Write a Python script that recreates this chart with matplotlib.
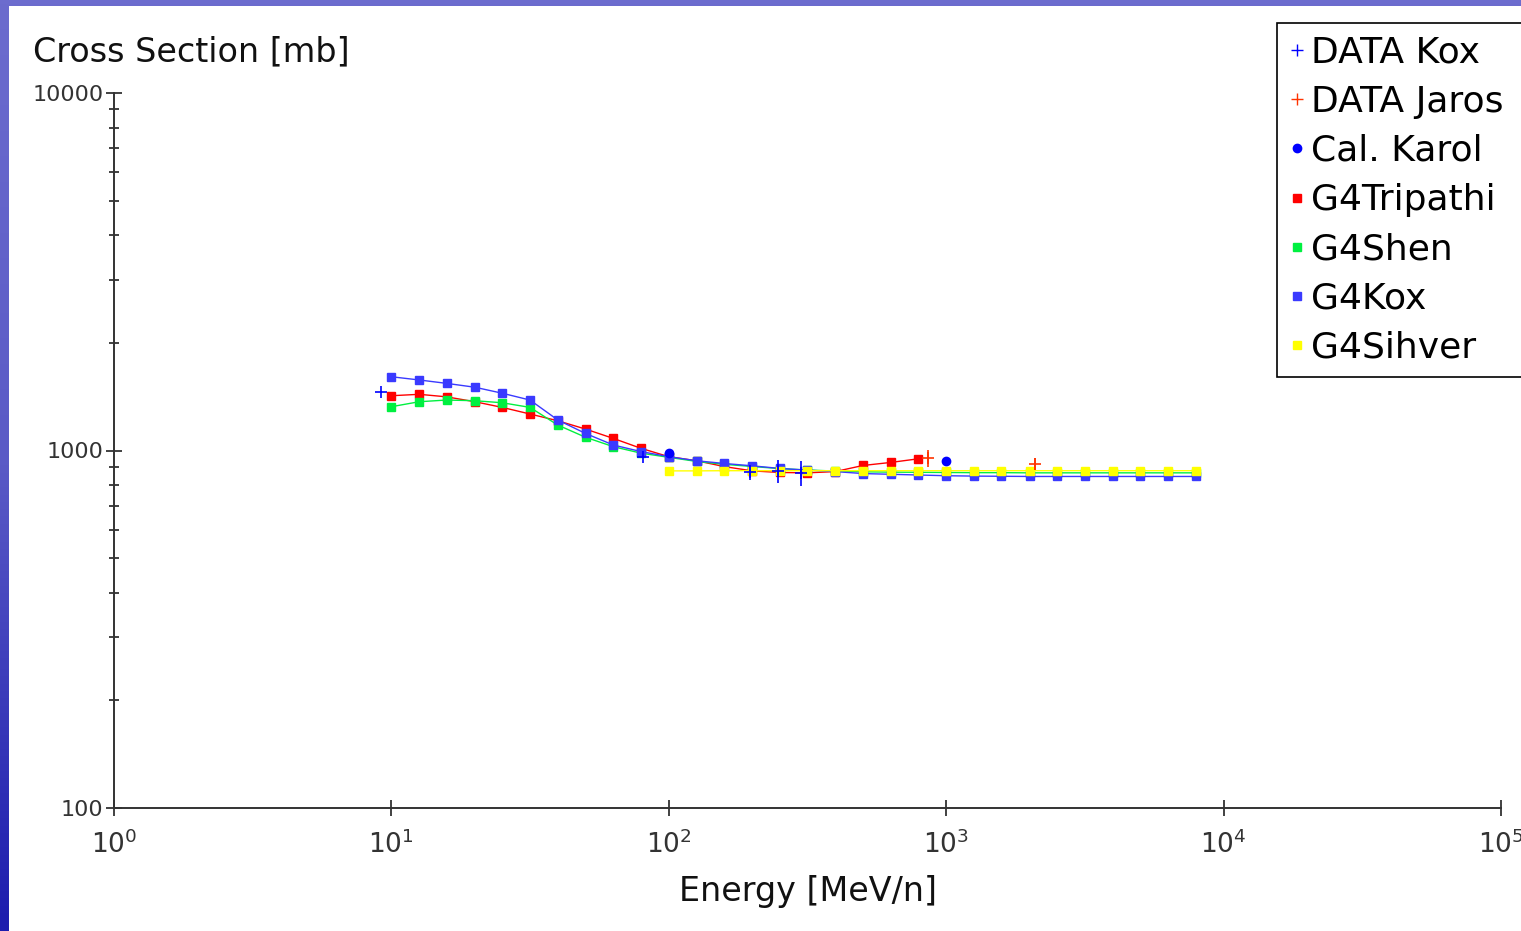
import numpy as np
import matplotlib
matplotlib.use("Agg")
from matplotlib import pyplot as plt
from matplotlib.lines import Line2D
from matplotlib.patches import Rectangle

# energies [MeV/n] of the model curves (0.1 decade steps)
E_model = [10, 12.6, 15.8, 20, 25.1, 31.6, 39.8, 50.1, 63.1, 79.4,
           100, 126, 158, 200, 251, 316, 398, 501, 631, 794,
           1000, 1260, 1580, 2000, 2510, 3160, 3980, 5010, 6310, 7940]

# cross sections [mb]
tripathi = [1423, 1436, 1413, 1369, 1320, 1265, 1211, 1148, 1081, 1014,
            961, 936, 902, 877, 868, 866, 873, 908, 926, 948]
shen = [1326, 1369, 1384, 1378, 1360, 1320, 1178, 1089, 1025, 983,
        957, 932, 915, 902, 890, 882, 876, 872, 870, 869,
        868, 867, 867, 866, 866, 866, 866, 866, 866, 866]
kox = [1608, 1575, 1541, 1503, 1446, 1384, 1217, 1116, 1036, 993,
       961, 936, 920, 906, 891, 881, 873, 862, 858, 854,
       850, 848, 847, 846, 846, 846, 846, 846, 846, 846]
sihver = [877, 877, 878, 878, 878, 878, 878, 878, 878, 878,
          878, 878, 878, 878, 878, 878, 878, 878, 878, 878]   # from 100 MeV/n

kox_E = [9.15, 81, 196, 248, 299]
kox_xs = [1460, 962, 868, 874, 866]
kox_err = [0, 0, 40, 65, 70]

jaros_E = [858, 2090]
jaros_xs = [951, 918]
jaros_err = [52, 35]

karol_E = [100, 1000]
karol_xs = [986, 936]

fig = plt.figure(figsize=(15.21, 9.31), dpi=100)

# blue slide background with white panel
bg = fig.add_axes([0, 0, 1, 1], zorder=-5)
grad = np.linspace(0, 1, 256).reshape(-1, 1)
cmap = matplotlib.colors.LinearSegmentedColormap.from_list("slide", ["#6c6cce", "#5a5ac6", "#1c1cae"])
bg.imshow(grad, aspect="auto", cmap=cmap, extent=[0, 1, 0, 1], origin="upper")
bg.add_patch(Rectangle((9/1521, 0), 1, 1 - 6/931, facecolor="white", edgecolor="none"))
bg.set_xlim(0, 1); bg.set_ylim(0, 1)
bg.axis("off")

ax = fig.add_axes([114/1521, 1 - 808/931, (1501-114)/1521, (808-93)/931])
ax.set_facecolor("white")

ax.plot(E_model[:20], tripathi, color="#ff0000", lw=1.0, marker="s", ms=6, mec="#ff0000", zorder=3)
ax.plot(E_model, shen, color="#00f040", lw=1.0, marker="s", ms=6, mec="#00f040", zorder=3)
ax.plot(E_model, kox, color="#3a3aff", lw=1.0, marker="s", ms=6, mec="#3a3aff", zorder=4)
ax.plot(E_model[10:], sihver, color="#ffff00", lw=1.0, marker="s", ms=6, mec="#ffff00", zorder=5)

ax.errorbar(kox_E, kox_xs, yerr=kox_err, fmt="+", color="#0000ff", ms=9, mew=1.2, elinewidth=1.2, capsize=0, zorder=6)
ax.errorbar(jaros_E, jaros_xs, yerr=jaros_err, fmt="+", color="#ff3300", ms=9, mew=1.2, elinewidth=1.2, capsize=0, zorder=6)
ax.plot(karol_E, karol_xs, "o", color="#0000ff", ms=6, zorder=6)

ax.set_xscale("log")
ax.set_yscale("log")
ax.set_xlim(1, 1e5)
ax.set_ylim(100, 10000)

ax.set_xticks([1, 10, 100, 1000, 1e4, 1e5])
ax.set_xticklabels([r"$10^{%d}$" % i for i in range(6)])
ax.xaxis.set_minor_locator(matplotlib.ticker.NullLocator())
ax.set_yticks([100, 1000, 10000])
ax.set_yticklabels(["100", "1000", "10000"])
ax.yaxis.set_minor_locator(matplotlib.ticker.LogLocator(base=10, subs=np.arange(2, 10)))
ax.yaxis.set_minor_formatter(matplotlib.ticker.NullFormatter())

for s in ["top", "right"]:
    ax.spines[s].set_visible(False)
for s in ["left", "bottom"]:
    ax.spines[s].set_color("#333333")
    ax.spines[s].set_linewidth(1.4)

ax.tick_params(axis="x", which="major", direction="inout", length=12, width=1.3, color="#333333",
               labelsize=19, labelcolor="#333333", pad=10)
ax.tick_params(axis="y", which="major", direction="inout", length=11, width=1.3, color="#333333",
               labelsize=16, labelcolor="#333333", pad=2)
ax.tick_params(axis="y", which="minor", direction="inout", length=7, width=1.3, color="#333333")

ax.set_xlabel("Energy [MeV/n]", fontsize=24, color="#111111", labelpad=12)
fig.text(33/1521, 1 - 52/931, "Cross Section [mb]", fontsize=24, color="#111111", va="center", ha="left")

handles = [
    Line2D([], [], ls="none", marker="+", color="#0000ff", ms=9, mew=1.0),
    Line2D([], [], ls="none", marker="+", color="#ff3300", ms=9, mew=1.0),
    Line2D([], [], ls="none", marker="o", color="#0000ff", ms=6),
    Line2D([], [], ls="none", marker="s", color="#ff0000", ms=6),
    Line2D([], [], ls="none", marker="s", color="#00f040", ms=6),
    Line2D([], [], ls="none", marker="s", color="#3a3aff", ms=6),
    Line2D([], [], ls="none", marker="s", color="#ffff00", ms=6),
]
labels = ["DATA Kox", "DATA Jaros", "Cal. Karol", "G4Tripathi", "G4Shen", "G4Kox", "G4Sihver"]
leg = fig.legend(handles, labels, loc="upper left", bbox_to_anchor=(1277/1521, 1 - 23/931, 0.2, 0),
                 mode="expand", fontsize=26, frameon=True, fancybox=False, shadow=False, framealpha=1,
                 handlelength=0.4, handletextpad=0.2, labelspacing=0.42, borderpad=0.35,
                 borderaxespad=0, edgecolor="black")
leg.get_frame().set_linewidth(1.2)

fig.savefig("out.png", dpi=100)
